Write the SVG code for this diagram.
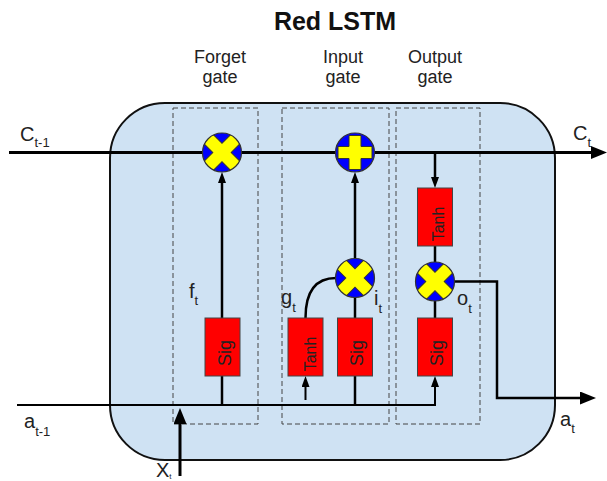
<svg xmlns="http://www.w3.org/2000/svg" xmlns:xlink="http://www.w3.org/1999/xlink" width="607" height="481" viewBox="0 0 607 481">
<style>
.lbl{font-family:"Liberation Sans",Arial,sans-serif;fill:#222}
.big{font-size:18px}
.var{font-size:20px}
.sub{font-size:13px}
.title{font-size:25px;font-weight:bold;font-family:"Liberation Sans",Arial,sans-serif;fill:#111}
.gate{fill:none;stroke:#444;stroke-width:1;stroke-dasharray:5,3}
.box{fill:#ff0000;stroke:#444;stroke-width:1}
.boxt{font-family:"Liberation Sans",Arial,sans-serif;fill:#222;text-anchor:middle}
.ln{fill:none;stroke:#000;stroke-width:2.5}
.thin{fill:none;stroke:#000;stroke-width:2}
.thick{fill:none;stroke:#000;stroke-width:3}
</style>
<defs>
<marker id="sm" markerUnits="userSpaceOnUse" markerWidth="11" markerHeight="8" viewBox="0 0 11 8" refX="0" refY="4" orient="auto"><path d="M0,0 L11,4 L0,8 Z" fill="#000"/></marker>
<marker id="bg" markerUnits="userSpaceOnUse" markerWidth="16" markerHeight="13" viewBox="0 0 16 13" refX="0" refY="6.5" orient="auto"><path d="M0,0 L16,6.5 L0,13 Z" fill="#000"/></marker>
<clipPath id="cc"><circle cx="0" cy="0" r="19.5"/></clipPath>
<g id="mulSym">
<circle r="19.5" fill="#0000ff"/>
<g clip-path="url(#cc)"><path d="M-6.5,-24 H6.5 V-6.5 H24 V6.5 H6.5 V24 H-6.5 V6.5 H-24 V-6.5 H-6.5 Z" transform="rotate(45)" fill="#ffff00" stroke="#333" stroke-width="1"/></g>
<circle r="19.5" fill="none" stroke="#333" stroke-width="1.2"/>
</g>
<g id="addSym">
<circle r="19.5" fill="#0000ff"/>
<path d="M-6,-17 H6 V-6 H17 V6 H6 V17 H-6 V6 H-17 V-6 H-6 Z" fill="#ffff00" stroke="#333" stroke-width="1"/>
<circle r="19.5" fill="none" stroke="#333" stroke-width="1.2"/>
</g>
</defs>

<text class="title" x="335" y="30" text-anchor="middle">Red LSTM</text>

<g id="cell">
<rect x="110" y="103" width="445" height="357" rx="55" ry="55" fill="#cfe2f3" stroke="#111" stroke-width="2"/>
</g>

<g id="gates">
<g id="forget-gate"><rect class="gate" x="173" y="108" width="85" height="316"/>
<text class="lbl big" x="220" y="63" text-anchor="middle">Forget</text>
<text class="lbl big" x="220" y="83" text-anchor="middle">gate</text></g>
<g id="input-gate"><rect class="gate" x="282" y="108" width="107" height="316"/>
<text class="lbl big" x="343" y="63" text-anchor="middle">Input</text>
<text class="lbl big" x="343" y="83" text-anchor="middle">gate</text></g>
<g id="output-gate"><rect class="gate" x="396" y="108" width="84" height="316"/>
<text class="lbl big" x="435" y="63" text-anchor="middle">Output</text>
<text class="lbl big" x="435" y="83" text-anchor="middle">gate</text></g>
</g>

<g id="connectors">
<path class="thick" d="M9,152.5 H591" marker-end="url(#bg)"/>
<path class="thin" d="M17,405 H435 V387" marker-end="url(#sm)"/>
<path class="thick" d="M180,476 V424" marker-end="url(#bg)"/>
<path class="ln" d="M222,405 V318"/>
<path class="ln" d="M222,318 V183" marker-end="url(#sm)"/>
<path class="ln" d="M355,405 V297"/>
<path class="ln" d="M355,259 V183" marker-end="url(#sm)"/>
<path class="ln" d="M305.5,318 Q305.5,278 336,278"/>
<path class="thin" d="M305.5,400 V387" marker-end="url(#sm)"/>
<path class="ln" d="M435,152.5 V177" marker-end="url(#sm)"/>
<path class="ln" d="M435,246 V318"/>
<path class="ln" d="M454,281.5 H497 V398 H580" marker-end="url(#bg)"/>
</g>

<g id="forget-mul"><use xlink:href="#mulSym" href="#mulSym" transform="translate(222,152.5)"/></g>
<g id="cell-add"><use xlink:href="#addSym" href="#addSym" transform="translate(355,152.5)"/></g>
<g id="input-mul"><use xlink:href="#mulSym" href="#mulSym" transform="translate(355,278)"/></g>
<g id="output-mul"><use xlink:href="#mulSym" href="#mulSym" transform="translate(435,281.5)"/></g>

<g id="forget-sig"><rect class="box" x="205" y="318" width="35" height="58"/>
<text class="boxt" font-size="18" transform="translate(230.5,353) rotate(-90)">Sig</text></g>
<g id="input-tanh"><rect class="box" x="288" y="318" width="35" height="58"/>
<text class="boxt" font-size="16" transform="translate(316,354) rotate(-90)">Tanh</text></g>
<g id="input-sig"><rect class="box" x="337.5" y="318" width="35" height="58"/>
<text class="boxt" font-size="18" transform="translate(363,353) rotate(-90)">Sig</text></g>
<g id="output-sig"><rect class="box" x="417.5" y="318" width="35" height="58"/>
<text class="boxt" font-size="18" transform="translate(443,353) rotate(-90)">Sig</text></g>
<g id="output-tanh"><rect class="box" x="417.5" y="188" width="35" height="58"/>
<text class="boxt" font-size="16" transform="translate(444,224) rotate(-90)">Tanh</text></g>

<g id="labels">
<text class="lbl var" x="20" y="141">C<tspan class="sub" dy="6">t-1</tspan></text>
<text class="lbl var" x="573" y="139.5">C<tspan class="sub" dy="7">t</tspan></text>
<text class="lbl var" x="189" y="298">f<tspan class="sub" dy="7">t</tspan></text>
<text class="lbl var" x="281" y="304">g<tspan class="sub" dy="8">t</tspan></text>
<text class="lbl var" x="374" y="305">i<tspan class="sub" dy="8">t</tspan></text>
<text class="lbl var" x="457" y="305">o<tspan class="sub" dy="8">t</tspan></text>
<text class="lbl var" x="24" y="428">a<tspan class="sub" dy="8">t-1</tspan></text>
<text class="lbl var" x="560" y="426">a<tspan class="sub" dy="7">t</tspan></text>
<text class="lbl var" x="156" y="477">X<tspan style="font-size:8px" dy="2">t</tspan></text>
</g>
</svg>
